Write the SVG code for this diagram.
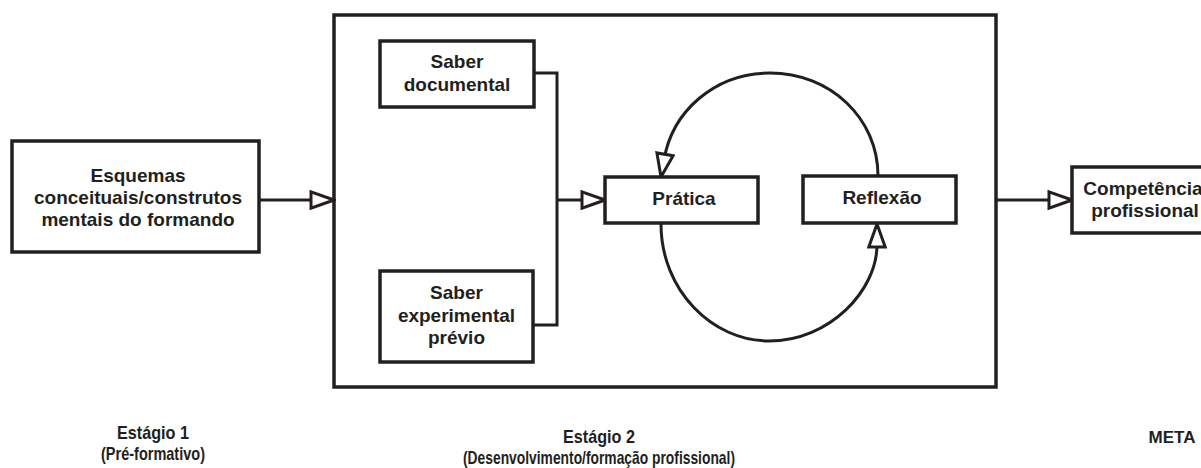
<svg xmlns="http://www.w3.org/2000/svg" width="1201" height="468" viewBox="0 0 1201 468">
<defs>
<style>
.box{fill:#fff;stroke:#231f20;stroke-width:3.5}
.frame{fill:none;stroke:#231f20;stroke-width:3.5}
.ln{fill:none;stroke:#231f20;stroke-width:3}
.t{font-family:"Liberation Sans",Arial,sans-serif;font-weight:bold;font-size:19px;fill:#231f20;text-anchor:middle}
.s{font-family:"Liberation Sans Narrow","Liberation Sans",Arial,sans-serif;font-weight:bold;font-size:18.5px;fill:#231f20;text-anchor:middle}
</style>
<marker id="ah" markerUnits="userSpaceOnUse" viewBox="0 0 27 20" refX="25" refY="10" markerWidth="27" markerHeight="20" orient="auto">
<path d="M2,1.8 L25,10 L2,18.2 Z" fill="#fff" stroke="#231f20" stroke-width="3" stroke-linejoin="miter"/>
</marker>
</defs>
<rect width="1201" height="468" fill="#fff"/>
<g id="stage2-frame"><rect class="frame" x="334" y="15" width="662" height="372"/></g>
<g id="connectors">
<path class="ln" d="M259,200 H334" marker-end="url(#ah)"/>
<path class="ln" d="M534,73 H557 V325 H534"/>
<path class="ln" d="M557,200 H605" marker-end="url(#ah)"/>
<path class="ln" d="M996,200 H1072" marker-end="url(#ah)"/>
<path class="ln" d="M878,176 C878,118 830,73 770,73 C714,73 672,112 664,160 L661,177" marker-end="url(#ah)"/>
<path class="ln" d="M661,224 C661,290 712,341 769,341 C830,341 877,290 877,245 L877,224" marker-end="url(#ah)"/>
</g>
<g id="esquemas"><rect class="box" x="12" y="141" width="247" height="111"/>
<text class="t" x="138" y="182">Esquemas</text>
<text class="t" x="138" y="204">conceituais/construtos</text>
<text class="t" x="138" y="226">mentais do formando</text></g>
<g id="saber-documental"><rect class="box" x="380" y="41" width="154" height="66"/>
<text class="t" x="457" y="68">Saber</text>
<text class="t" x="457" y="91">documental</text></g>
<g id="saber-experimental"><rect class="box" x="380" y="271" width="153" height="91"/>
<text class="t" x="456.5" y="299">Saber</text>
<text class="t" x="456.5" y="322">experimental</text>
<text class="t" x="456.5" y="344">prévio</text></g>
<g id="pratica"><rect class="box" x="605" y="177" width="153" height="46"/>
<text class="t" x="684" y="205">Prática</text></g>
<g id="reflexao"><rect class="box" x="803" y="176" width="153" height="47"/>
<text class="t" x="882" y="204">Reflexão</text></g>
<g id="competencia"><rect class="box" x="1072" y="167" width="145" height="66"/>
<text class="t" x="1143" y="195">Competência</text>
<text class="t" x="1145" y="217">profissional</text></g>
<g id="labels">
<text class="s" x="153" y="439" textLength="72" lengthAdjust="spacingAndGlyphs">Estágio 1</text>
<text class="s" x="153" y="460" textLength="104" lengthAdjust="spacingAndGlyphs">(Pré-formativo)</text>
<text class="s" x="599" y="443" textLength="72" lengthAdjust="spacingAndGlyphs">Estágio 2</text>
<text class="s" x="599" y="464" textLength="272" lengthAdjust="spacingAndGlyphs">(Desenvolvimento/formação profissional)</text>
<text class="s" x="1172" y="443" style="font-size:17px">META</text>
</g>
</svg>
